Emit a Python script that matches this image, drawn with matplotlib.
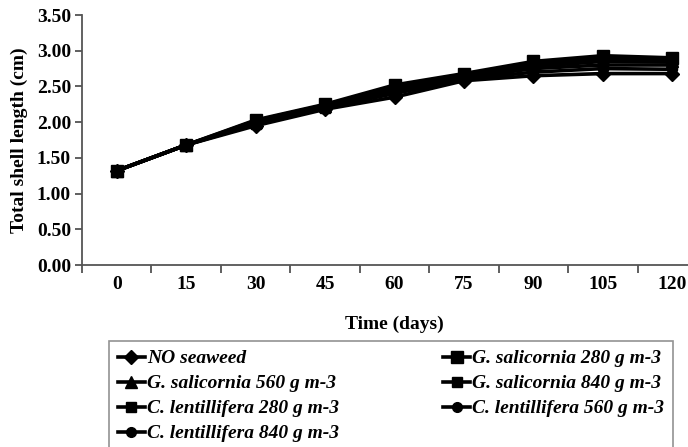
import matplotlib
matplotlib.use("Agg")
import matplotlib.pyplot as plt
import numpy as np

days = ["0", "15", "30", "45", "60", "75", "90", "105", "120"]
yticks = [0.0, 0.5, 1.0, 1.5, 2.0, 2.5, 3.0, 3.5]

no_seaweed = [1.32, 1.68, 1.95, 2.18, 2.35, 2.58, 2.65, 2.68, 2.68]
gs_280 = [1.32, 1.68, 2.03, 2.25, 2.52, 2.68, 2.85, 2.93, 2.90]
gs_560 = [1.32, 1.68, 2.00, 2.22, 2.48, 2.66, 2.80, 2.88, 2.86]
gs_840 = [1.32, 1.68, 1.98, 2.20, 2.45, 2.65, 2.78, 2.85, 2.84]
cl_280 = [1.32, 1.68, 2.00, 2.22, 2.42, 2.62, 2.75, 2.80, 2.80]
cl_560 = [1.32, 1.68, 1.97, 2.20, 2.40, 2.60, 2.70, 2.75, 2.74]
cl_840 = [1.32, 1.68, 2.02, 2.24, 2.50, 2.67, 2.82, 2.90, 2.88]

labels = ["NO seaweed", "G. salicornia 280 g m-3", "G. salicornia 560 g m-3",
          "G. salicornia 840 g m-3", "C. lentillifera 280 g m-3",
          "C. lentillifera 560 g m-3", "C. lentillifera 840 g m-3"]
series = [no_seaweed, gs_280, gs_560, gs_840, cl_280, cl_560, cl_840]
markers = ["D", "s", "^", "s", "s", "o", "o"]
msizes = [7, 9, 8, 7, 7, 7, 7]

serif = ["Liberation Serif", "DejaVu Serif"]
plt.rcParams["font.family"] = serif

fig = plt.figure(figsize=(6.88, 4.47), dpi=100)
ax = fig.add_axes([82/688, 1-265/447, (707-82)/688, 250/447])

x = np.arange(len(days))
handles = []
for s, m, ms, lab in zip(series, markers, msizes, labels):
    h, = ax.plot(x, s, color="black", lw=2.6, marker=m, markersize=ms, label=lab)
    handles.append(h)

ax.set_xlim(-0.5, len(days) - 0.5)
ax.set_ylim(0, 3.5)
ax.set_yticks(yticks)
ax.set_yticklabels([f"{v:.2f}" for v in yticks], fontsize=14, fontweight="bold")
ax.set_xticks(x)
ax.set_xticklabels(days, fontsize=14, fontweight="bold")
ax.set_xticks(np.arange(-0.5, len(days) + 0.5, 1), minor=True)
ax.tick_params(axis="x", which="major", length=0, pad=8)
ax.tick_params(axis="x", which="minor", length=6, width=1.2, color="#444444", direction="out")
ax.tick_params(axis="y", length=5, width=1.2, color="#444444", direction="out", pad=3)
for sp in ["top", "right"]:
    ax.spines[sp].set_visible(False)
for sp in ["left", "bottom"]:
    ax.spines[sp].set_color("#555555")
    ax.spines[sp].set_linewidth(1.3)

ax.set_xlabel("Time (days)", fontsize=14, fontweight="bold", labelpad=16)
ax.set_ylabel("Total shell length (cm)", fontsize=14, fontweight="bold", labelpad=6)

order = [0, 2, 4, 6, 1, 3, 5]
top = 1 - 341/447
leg = fig.legend([handles[i] for i in order], [labels[i] for i in order],
                 ncol=2, loc="upper left",
                 bbox_to_anchor=(109/688, top - 0.4, (673-109)/688, 0.4),
                 mode="expand", frameon=True, fancybox=False,
                 prop={"family": serif, "style": "italic", "weight": "bold", "size": 14},
                 handlelength=1.4, handletextpad=0.1, labelspacing=0.38,
                 borderaxespad=0, borderpad=0.45, columnspacing=1.0)
leg.get_frame().set_edgecolor("#777777")
leg.get_frame().set_linewidth(1.2)

fig.savefig("out.png", dpi=100)
